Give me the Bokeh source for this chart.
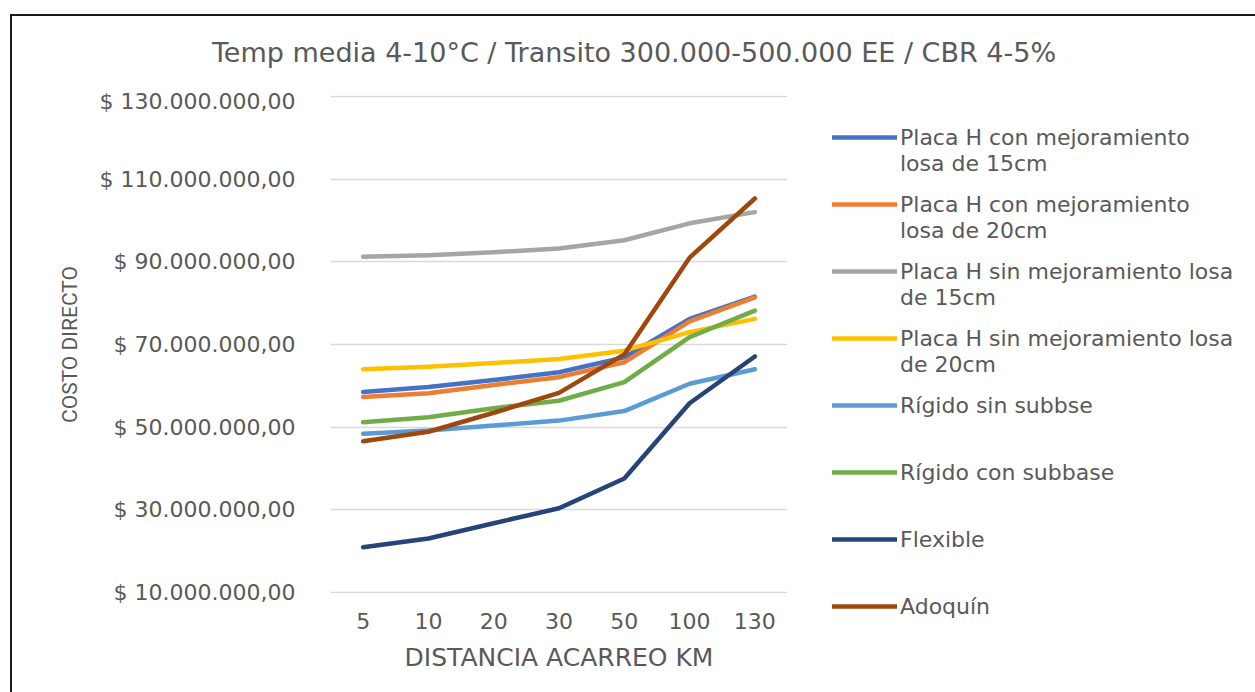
import numpy as np
from bokeh.plotting import figure
from bokeh.models import Legend, LegendItem, FixedTicker, Range1d
from bokeh.core.properties import value
from bokeh.layouts import row, column
from bokeh.embed import file_html
from bokeh.resources import INLINE

# ---- data ----
distancias = ["5", "10", "20", "30", "50", "100", "130"]
placa_h_con_15 = [58.5e6, 59.7e6, 61.4e6, 63.3e6, 66.9e6, 76.2e6, 81.6e6]
placa_h_con_20 = [57.3e6, 58.2e6, 60.2e6, 62.1e6, 65.7e6, 75.6e6, 81.4e6]
placa_h_sin_15 = [91.2e6, 91.6e6, 92.3e6, 93.2e6, 95.2e6, 99.3e6, 102.0e6]
placa_h_sin_20 = [64.0e6, 64.6e6, 65.5e6, 66.5e6, 68.5e6, 73.0e6, 76.2e6]
rigido_sin_subbase = [48.4e6, 49.2e6, 50.4e6, 51.6e6, 53.9e6, 60.5e6, 64.0e6]
rigido_con_subbase = [51.2e6, 52.4e6, 54.6e6, 56.4e6, 60.9e6, 71.8e6, 78.2e6]
flexible = [21.0e6, 23.1e6, 26.8e6, 30.4e6, 37.6e6, 55.8e6, 67.1e6]
adoquin = [46.6e6, 48.9e6, 53.5e6, 58.3e6, 67.6e6, 91.0e6, 105.3e6]

# legend labels: first line / second line
names_line1 = ["Placa H con mejoramiento", "Placa H con mejoramiento",
               "Placa H sin mejoramiento losa", "Placa H sin mejoramiento losa",
               "Rígido sin subbse", "Rígido con subbase", "Flexible", "Adoquín"]
names_line2 = ["losa de 15cm", "losa de 20cm", "de 15cm", "de 20cm",
               " ", " ", " ", " "]
series_values = [placa_h_con_15, placa_h_con_20, placa_h_sin_15, placa_h_sin_20,
                 rigido_sin_subbase, rigido_con_subbase, flexible, adoquin]
series_colors = ["#4472C4", "#ED7D31", "#A5A5A5", "#FFC000",
                 "#5B9BD5", "#70AD47", "#264478", "#9E480E"]

y_ticks = [10e6, 30e6, 50e6, 70e6, 90e6, 110e6, 130e6]
y_tick_labels = ["$ 10.000.000,00", "$ 30.000.000,00", "$ 50.000.000,00",
                 "$ 70.000.000,00", "$ 90.000.000,00", "$ 110.000.000,00",
                 "$ 130.000.000,00"]

title_text = "Temp media 4-10°C / Transito 300.000-500.000 EE / CBR 4-5%"

TXT = "#595959"
LW = 4.5

def blank_fig(w, h):
    f = figure(width=w, height=h, output_backend="svg", toolbar_location=None,
               x_axis_type=None, y_axis_type=None, title_location=None,
               x_range=Range1d(0, 1), y_range=Range1d(0, 1),
               min_border=0, background_fill_color="white",
               border_fill_color="white")
    f.outline_line_color = None
    f.xgrid.grid_line_color = None
    f.ygrid.grid_line_color = None
    f.frame_align = False
    return f

# ---- title strip ----
t = blank_fig(1243, 72)
t.text(x=[0.5], y=[0.5], text=[title_text], text_align="center",
       text_baseline="middle", text_font=value("DejaVu Sans"),
       text_font_size="27px", text_color=TXT)

# ---- main chart ----
p = figure(x_range=distancias, y_range=(9.8e6, 130.2e6),
           width=775, height=604, output_backend="svg", toolbar_location=None,
           title_location=None,
           min_border_left=318, min_border_right=0,
           min_border_top=7, min_border_bottom=99,
           background_fill_color="white", border_fill_color="white")
p.outline_line_color = None
p.frame_align = False

for vals, col in zip(series_values, series_colors):
    p.line(distancias, vals, line_color=col, line_width=LW, line_cap="round",
           line_join="round")

p.yaxis.ticker = FixedTicker(ticks=y_ticks)
p.yaxis.major_label_overrides = {t_: l for t_, l in zip(y_ticks, y_tick_labels)}
for ax in (p.xaxis, p.yaxis):
    ax.axis_line_color = None
    ax.major_tick_line_color = None
    ax.minor_tick_line_color = None
    ax.major_label_text_color = TXT
    ax.major_label_text_font = "DejaVu Sans"
    ax.major_label_text_font_size = "22px"
    ax.axis_label_text_color = TXT
    ax.axis_label_text_font_style = "normal"
p.yaxis.major_label_standoff = 29
p.xaxis.major_label_standoff = 13
p.yaxis.axis_label = "COSTO DIRECTO"
p.yaxis.axis_label_text_font = "Roboto"
p.yaxis.axis_label_text_font_size = "21px"
p.yaxis.axis_label_standoff = 15
p.xaxis.axis_label = "DISTANCIA ACARREO KM"
p.xaxis.axis_label_text_font = "DejaVu Sans"
p.xaxis.axis_label_text_font_size = "25px"
p.xaxis.axis_label_standoff = 11

p.xgrid.grid_line_color = None
p.ygrid.grid_line_color = "#D9D9D9"
p.ygrid.grid_line_width = 1.5
p.x_range.range_padding = 0

# ---- legend panel ----
q = blank_fig(468, 604)
shown = [q.line(x=[np.nan], y=[np.nan], line_color=col, line_width=LW,
                line_cap="round") for col in series_colors]
hidden = [q.line(x=[np.nan], y=[np.nan], line_alpha=0) for _ in series_colors]

leg_common = dict(margin=0, padding=0, glyph_width=65, glyph_height=20,
                  label_height=26, spacing=41, label_standoff=3,
                  label_text_font="DejaVu Sans", label_text_font_size="22px",
                  label_text_color=TXT, border_line_color=None,
                  background_fill_alpha=0)
legend1 = Legend(items=[LegendItem(label=n, renderers=[r])
                        for n, r in zip(names_line1, shown)],
                 location=(45, 73), **leg_common)
legend2 = Legend(items=[LegendItem(label=n, renderers=[r])
                        for n, r in zip(names_line2, hidden)],
                 location=(45, 47), **leg_common)
q.add_layout(legend1, "center")
q.add_layout(legend2, "center")

layout = column(t, row(p, q),
                styles={"margin-left": "10px", "margin-top": "14px",
                        "border-top": "2px solid #1a1a1a",
                        "border-left": "2px solid #1a1a1a"})

open("out.html", "w").write(file_html(layout, INLINE))
